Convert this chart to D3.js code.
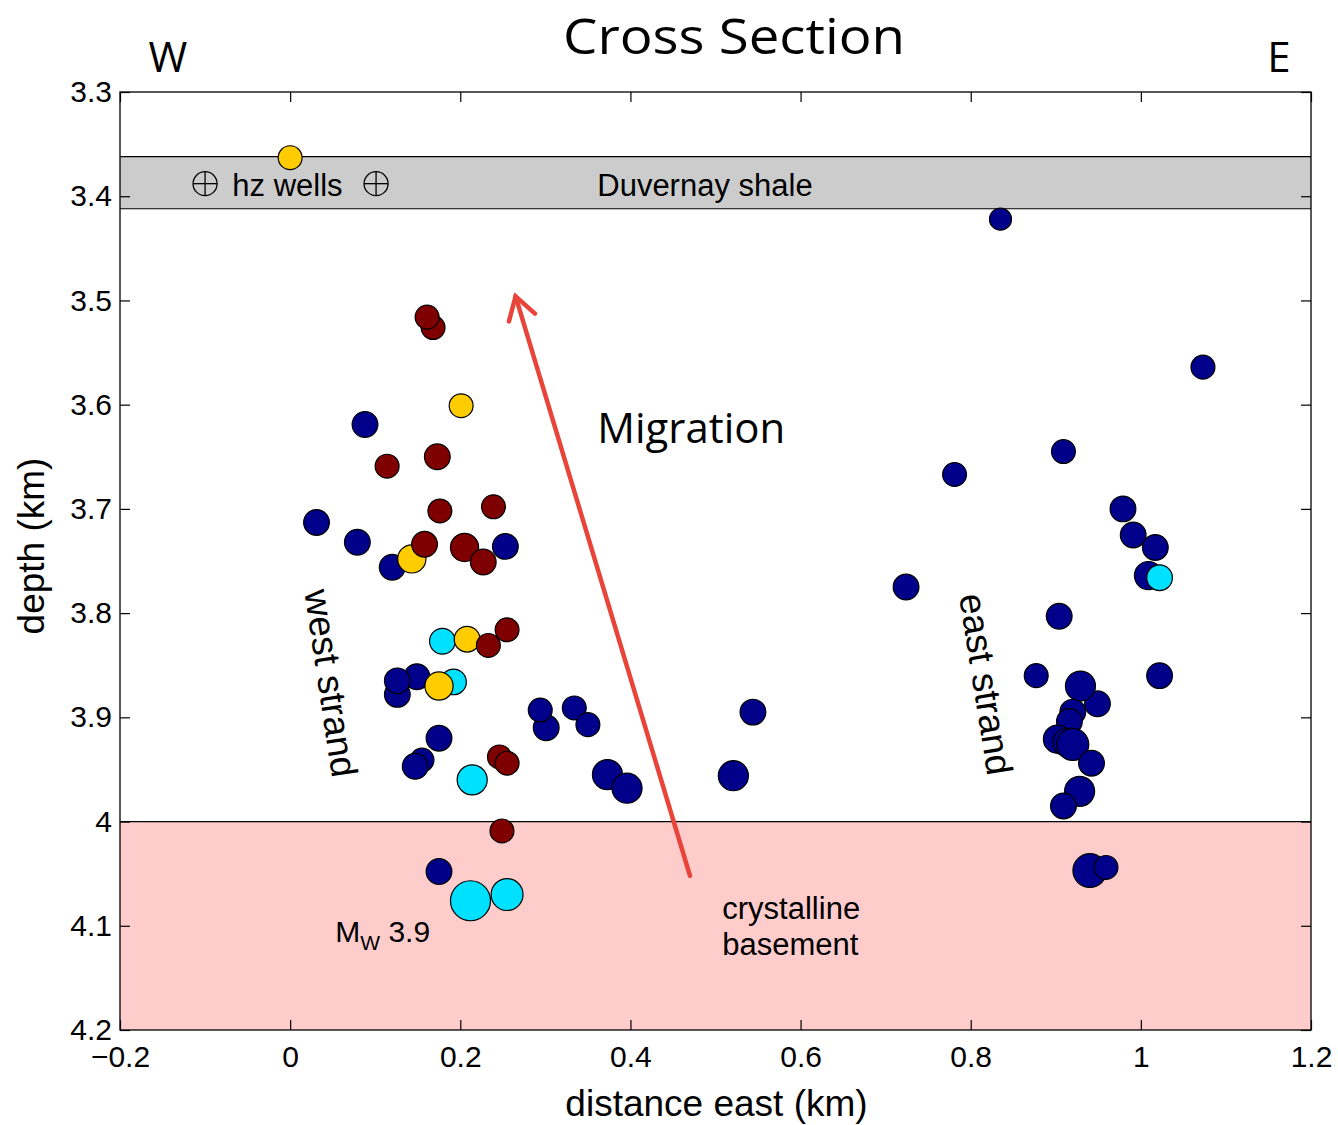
<!DOCTYPE html>
<html><head><meta charset="utf-8">
<script src="https://cdn.jsdelivr.net/npm/d3@7"></script>
<style>body{margin:0;background:#fff}</style>
</head><body><svg id="c" width="1338" height="1125"></svg>
<script>
// ---- data ----
const distanceKm = [0.000,0.835,0.168,0.161,1.073,0.201,0.088,0.909,0.173,0.114,0.781,0.239,0.176,0.979,0.031,0.991,0.079,0.253,0.120,0.143,0.158,0.205,0.227,1.017,1.009,1.022,0.724,0.904,0.255,0.179,0.208,0.233,0.877,1.022,0.149,0.126,0.126,0.192,0.175,0.949,0.929,0.301,0.294,0.334,0.350,0.544,0.920,0.916,0.175,0.902,0.913,0.920,0.246,0.255,0.155,0.147,0.942,0.373,0.396,0.521,0.214,0.928,0.909,0.249,0.940,0.959,0.175,0.255,0.212];
const depthKm =    [3.363,3.422,3.526,3.516,3.564,3.601,3.619,3.645,3.650,3.659,3.667,3.698,3.702,3.700,3.713,3.725,3.732,3.736,3.756,3.748,3.734,3.737,3.751,3.737,3.764,3.766,3.775,3.803,3.816,3.827,3.825,3.831,3.860,3.860,3.861,3.878,3.865,3.866,3.870,3.887,3.870,3.910,3.893,3.891,3.907,3.895,3.895,3.904,3.920,3.921,3.924,3.926,3.938,3.944,3.941,3.947,3.944,3.955,3.968,3.956,3.960,3.971,3.985,4.009,4.047,4.044,4.048,4.070,4.076];
const magnitude =  [1.3,1.0,1.3,1.3,1.3,1.3,1.6,1.3,1.6,1.3,1.3,1.3,1.3,1.6,1.6,1.6,1.6,1.6,1.6,2.0,1.6,2.0,1.6,1.6,2.0,1.6,1.6,1.6,1.3,1.6,1.6,1.3,1.3,1.6,1.6,1.6,1.6,1.6,2.0,1.6,2.3,1.6,1.3,1.3,1.3,1.6,1.6,1.6,1.6,2.0,2.0,2.6,1.3,1.3,1.3,1.6,1.6,2.3,2.3,2.3,2.3,2.3,1.6,1.3,2.9,1.3,1.6,2.6,3.9];
// period: 0 = navy, 1 = dark red, 2 = gold, 3 = cyan
const period =     [2,0,1,1,0,2,0,0,1,1,0,1,1,0,0,0,0,0,0,2,1,1,1,0,0,3,0,0,1,3,2,1,0,0,0,0,0,3,2,0,0,0,0,0,0,0,0,0,0,0,0,0,1,1,0,0,0,0,0,0,3,0,0,1,0,0,0,3,3];
const periodColors = ["#00008b","#7f0000","#ffcc00","#00e1ff"];

const xTickValues = [-0.2,0,0.2,0.4,0.6,0.8,1,1.2];
const xTickLabels = ["\u22120.2","0","0.2","0.4","0.6","0.8","1","1.2"];
const yTickValues = [3.3,3.4,3.5,3.6,3.7,3.8,3.9,4.0,4.1,4.2];
const yTickLabels = ["3.3","3.4","3.5","3.6","3.7","3.8","3.9","4","4.1","4.2"];

const shaleTop = 3.362, shaleBottom = 3.412, basementTop = 4.0;
const wellMarks = [-0.100, 0.101];         // ⊕ symbol positions (km)
const migrationFrom = [0.470, 4.052], migrationTo = [0.265, 3.496];

// ---- layout ----
const svg = d3.select("#c");
const x = d3.scaleLinear().domain([-0.2,1.2]).range([120,1311]);
const y = d3.scaleLinear().domain([3.3,4.2]).range([92,1030]);
const r = d3.scaleLinear().domain([1.0,3.9]).range([11,20]);
const SANS = "'Liberation Sans', Arial, Helvetica, sans-serif";
const HUM = "'Open Sans', 'Noto Sans', sans-serif";

// background layers
svg.append("rect").attr("x",x(-0.2)).attr("y",y(3.3)).attr("width",x(1.2)-x(-0.2)).attr("height",y(4.2)-y(3.3)).attr("fill","#fff");
svg.append("rect").attr("x",x(-0.2)).attr("y",y(shaleTop)).attr("width",x(1.2)-x(-0.2)).attr("height",y(shaleBottom)-y(shaleTop)).attr("fill","#cccccc");
svg.append("rect").attr("x",x(-0.2)).attr("y",y(basementTop)).attr("width",x(1.2)-x(-0.2)).attr("height",y(4.2)-y(basementTop)).attr("fill","#ffcccc");
[shaleTop, shaleBottom, basementTop].forEach(v=>{
  svg.append("line").attr("x1",x(-0.2)).attr("x2",x(1.2)).attr("y1",y(v)).attr("y2",y(v)).attr("stroke","#000").attr("stroke-width",1.2);
});

// labels inside plot
svg.append("text").attr("x", x(-0.068)).attr("y",y(3.3)+104).attr("font-family",SANS).attr("font-size",31).text("hz wells");
wellMarks.forEach(v=>{
  const g = svg.append("g").attr("transform",`translate(${x(v)},${y((shaleTop+shaleBottom)/2)+1})`);
  g.append("circle").attr("r",12).attr("fill","none").attr("stroke","#000").attr("stroke-width",1.3);
  g.append("line").attr("x1",-12).attr("x2",12).attr("stroke","#000").attr("stroke-width",1.3);
  g.append("line").attr("y1",-12).attr("y2",12).attr("stroke","#000").attr("stroke-width",1.3);
});
svg.append("text").attr("x",x(0.361)).attr("y",y(3.3)+104).attr("font-family",SANS).attr("font-size",31).text("Duvernay shale");

svg.append("text").attr("x",x(0.361)).attr("y",y(3.3)+351).attr("font-family",HUM).attr("font-size",42)
  .attr("textLength",188).attr("lengthAdjust","spacingAndGlyphs").text("Migration");

svg.append("text").attr("font-family",SANS).attr("font-size",37)
  .attr("text-anchor","middle").attr("transform",`translate(${x(0.033)},${y(3.869)}) rotate(81.5)`).text("west strand");
svg.append("text").attr("font-family",SANS).attr("font-size",37)
  .attr("text-anchor","middle").attr("transform",`translate(${x(0.803)},${y(3.870)}) rotate(81)`).text("east strand");

const mw = svg.append("text").attr("x",x(0.053)).attr("y",942).attr("font-family",SANS).attr("font-size",30);
mw.append("tspan").text("M");
mw.append("tspan").attr("font-size",21).attr("dy",8).text("W");
mw.append("tspan").attr("dy",-8).text(" 3.9");

svg.append("text").attr("x",x(0.508)).attr("y",919).attr("font-family",SANS).attr("font-size",31).text("crystalline");
svg.append("text").attr("x",x(0.508)).attr("y",955).attr("font-family",SANS).attr("font-size",31).text("basement");

// migration arrow
const arrowColor = "#e8443a";
const ax1 = x(migrationFrom[0]), ay1 = y(migrationFrom[1]), ax2 = x(migrationTo[0]), ay2 = y(migrationTo[1]);
svg.append("line").attr("x1",ax1).attr("y1",ay1).attr("x2",ax2).attr("y2",ay2).attr("stroke",arrowColor).attr("stroke-width",4.5).attr("stroke-linecap","round");
{
  const ang = Math.atan2(ay1-ay2, ax1-ax2), L = 26, spread = 0.55;
  const p1 = [ax2+L*Math.cos(ang+spread), ay2+L*Math.sin(ang+spread)];
  const p2 = [ax2+L*Math.cos(ang-spread), ay2+L*Math.sin(ang-spread)];
  svg.append("path").attr("d",`M${p1[0]},${p1[1]}L${ax2},${ay2}L${p2[0]},${p2[1]}`)
    .attr("fill","none").attr("stroke",arrowColor).attr("stroke-width",4.5).attr("stroke-linecap","round").attr("stroke-linejoin","miter");
}

// events
const events = distanceKm.map((d,i)=>({x:d, z:depthKm[i], m:magnitude[i], p:period[i]}));
svg.append("g").selectAll("circle").data(events).join("circle")
  .attr("cx",d=>x(d.x)).attr("cy",d=>y(d.z)).attr("r",d=>r(d.m))
  .attr("fill",d=>periodColors[d.p]).attr("stroke","#000").attr("stroke-width",1.2);

// axes
const gx = svg.append("g").attr("transform",`translate(0,${y(4.2)})`)
  .call(d3.axisBottom(x).tickValues(xTickValues).tickFormat((d,i)=>xTickLabels[i]).tickSizeInner(-10).tickSizeOuter(0).tickPadding(16));
const gxt = svg.append("g").attr("transform",`translate(0,${y(3.3)})`)
  .call(d3.axisTop(x).tickValues(xTickValues).tickFormat("").tickSizeInner(-10).tickSizeOuter(0));
const gy = svg.append("g").attr("transform",`translate(${x(-0.2)},0)`)
  .call(d3.axisLeft(y).tickValues(yTickValues).tickFormat((d,i)=>yTickLabels[i]).tickSizeInner(-10).tickSizeOuter(0).tickPadding(8));
const gyr = svg.append("g").attr("transform",`translate(${x(1.2)},0)`)
  .call(d3.axisRight(y).tickValues(yTickValues).tickFormat("").tickSizeInner(-10).tickSizeOuter(0));
[gx,gxt,gy,gyr].forEach(g=>{
  g.select(".domain").remove();
  g.selectAll("line").attr("stroke","#000").attr("stroke-width",1.2);
  g.selectAll("text").attr("font-family",SANS).attr("font-size",30).attr("fill","#000");
});
svg.append("rect").attr("x",x(-0.2)).attr("y",y(3.3)).attr("width",x(1.2)-x(-0.2)).attr("height",y(4.2)-y(3.3))
  .attr("fill","none").attr("stroke","#000").attr("stroke-width",1.3);

// axis titles
svg.append("text").attr("x",(x(-0.2)+x(1.2))/2+1).attr("y",1116).attr("text-anchor","middle")
  .attr("font-family",SANS).attr("font-size",37).text("distance east (km)");
svg.append("text").attr("transform",`translate(44,${(y(3.3)+y(4.2))/2-15}) rotate(-90)`).attr("text-anchor","middle")
  .attr("font-family",SANS).attr("font-size",37).text("depth (km)");

// title and W/E
svg.append("text").attr("x",734).attr("y",54).attr("text-anchor","middle").attr("font-family",HUM).attr("font-size",49)
  .attr("textLength",342).attr("lengthAdjust","spacingAndGlyphs").text("Cross Section");
svg.append("text").attr("x",168).attr("y",72).attr("text-anchor","middle").attr("font-family",HUM).attr("font-size",42).text("W");
svg.append("text").attr("x",1279).attr("y",72).attr("text-anchor","middle").attr("font-family",HUM).attr("font-size",42).text("E");
</script></body></html>
